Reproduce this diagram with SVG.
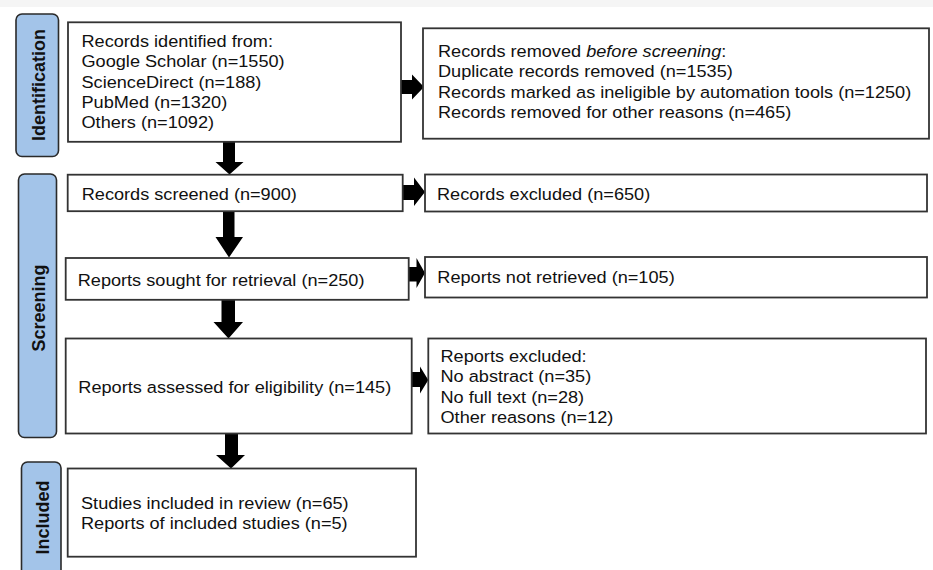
<svg xmlns="http://www.w3.org/2000/svg" width="933" height="570" viewBox="0 0 933 570">
<style>
  .box { fill: #ffffff; stroke: #333333; stroke-width: 1.8; }
  .phase { fill: #a3c4e9; stroke: #2a2a2a; stroke-width: 1.6; }
  .t { font-family: "Liberation Sans", Arial, sans-serif; font-size: 16.5px; fill: #111111; }
  .pl { font-family: "Liberation Sans", Arial, sans-serif; font-size: 18px; font-weight: bold; fill: #111111; text-anchor: middle; }
  .arr { fill: #000000; }
</style>
<rect x="0" y="0" width="933" height="570" fill="#ffffff"/>
<rect x="0" y="0" width="933" height="7" fill="#f5f5f5"/>

<g id="phase-identification">
  <rect class="phase" x="16" y="14" width="42.5" height="142.5" rx="6"/>
  <text class="pl" transform="translate(44.5,85) rotate(-90)">Identification</text>
</g>
<g id="phase-screening">
  <rect class="phase" x="18.5" y="174" width="38" height="263.5" rx="6"/>
  <text class="pl" transform="translate(44.5,308) rotate(-90)">Screening</text>
</g>
<g id="phase-included">
  <rect class="phase" x="21.5" y="462" width="39.5" height="130" rx="6"/>
  <text class="pl" transform="translate(49,517.5) rotate(-90)">Included</text>
</g>

<g id="connectors">
  <polygon class="arr" points="223,142 235,142 235,162 243.5,162 229.5,174.5 215.5,162 223,162"/>
  <polygon class="arr" points="223,211 234.5,211 234.5,237 243,237 229,257.5 215.5,237 223,237"/>
  <polygon class="arr" points="221.5,300 235,300 235,322 243,322 228.5,338.5 213.5,322 221.5,322"/>
  <polygon class="arr" points="225,433 238,433 238,455 245,455 231,468.5 216,455 225,455"/>
  <polygon class="arr" points="401,80 412,80 412,74.5 424,87 412,99.5 412,94 401,94"/>
  <polygon class="arr" points="402.5,185 414,185 414,177.5 425,192 414,206 414,200 402.5,200"/>
  <polygon class="arr" points="408.5,267 416.5,267 416.5,258 425,273 416.5,288 416.5,281.5 408.5,281.5"/>
  <polygon class="arr" points="411.5,372 420,372 420,366.5 428.3,380 420,393.5 420,387 411.5,387"/>
</g>

<g id="node-identified">
  <rect class="box" x="68" y="22.3" width="333" height="119.5"/>
  <g transform="translate(81.5,0) scale(1.1,1)">
    <text class="t" x="0" y="46.7">Records identified from:</text>
    <text class="t" x="0" y="67.2">Google Scholar (n=1550)</text>
    <text class="t" x="0" y="87.7">ScienceDirect (n=188)</text>
    <text class="t" x="0" y="108.2">PubMed (n=1320)</text>
    <text class="t" x="0" y="128.5">Others (n=1092)</text>
  </g>
</g>

<g id="node-removed">
  <rect class="box" x="423" y="28.3" width="506" height="110.4"/>
  <g transform="translate(438,0) scale(1.1,1)">
    <text class="t" x="0" y="57.3">Records removed <tspan font-style="italic">before screening</tspan>:</text>
    <text class="t" x="0" y="77.5">Duplicate records removed (n=1535)</text>
    <text class="t" x="0" y="97.7">Records marked as ineligible by automation tools (n=1250)</text>
    <text class="t" x="0" y="117.8">Records removed for other reasons (n=465)</text>
  </g>
</g>

<g id="node-screened">
  <rect class="box" x="67.7" y="174.7" width="335" height="36.5"/>
  <g transform="translate(81.7,0) scale(1.1,1)">
    <text class="t" x="0" y="200">Records screened (n=900)</text>
  </g>
</g>

<g id="node-excluded">
  <rect class="box" x="425" y="174.5" width="502" height="37"/>
  <g transform="translate(437,0) scale(1.1,1)">
    <text class="t" x="0" y="200">Records excluded (n=650)</text>
  </g>
</g>

<g id="node-sought">
  <rect class="box" x="65.7" y="258" width="343" height="41.8"/>
  <g transform="translate(77.7,0) scale(1.1,1)">
    <text class="t" x="0" y="286">Reports sought for retrieval (n=250)</text>
  </g>
</g>

<g id="node-not-retrieved">
  <rect class="box" x="425" y="257" width="502" height="40.5"/>
  <g transform="translate(437.3,0) scale(1.1,1)">
    <text class="t" x="0" y="283.5">Reports not retrieved (n=105)</text>
  </g>
</g>

<g id="node-assessed">
  <rect class="box" x="65.7" y="338.5" width="346" height="95"/>
  <g transform="translate(78.3,0) scale(1.1,1)">
    <text class="t" x="0" y="393.3">Reports assessed for eligibility (n=145)</text>
  </g>
</g>

<g id="node-reports-excluded">
  <rect class="box" x="428.3" y="338.5" width="497.7" height="95"/>
  <g transform="translate(440.5,0) scale(1.1,1)">
    <text class="t" x="0" y="362">Reports excluded:</text>
    <text class="t" x="0" y="382.5">No abstract (n=35)</text>
    <text class="t" x="0" y="402.8">No full text (n=28)</text>
    <text class="t" x="0" y="423.2">Other reasons (n=12)</text>
  </g>
</g>

<g id="node-included">
  <rect class="box" x="67.7" y="468.5" width="348.3" height="88.2"/>
  <g transform="translate(81,0) scale(1.1,1)">
    <text class="t" x="0" y="509">Studies included in review (n=65)</text>
    <text class="t" x="0" y="529.3">Reports of included studies (n=5)</text>
  </g>
</g>
</svg>
